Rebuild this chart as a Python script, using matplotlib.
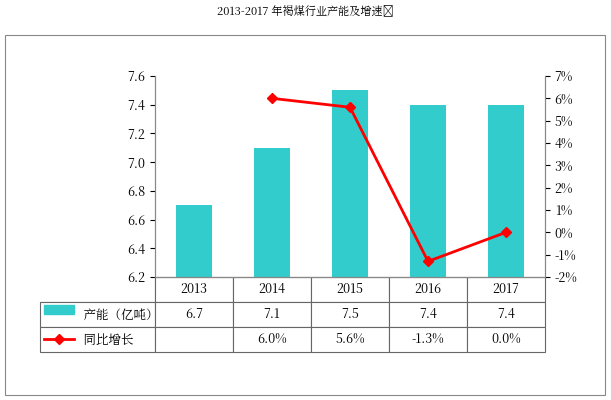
import matplotlib
matplotlib.use("Agg")
import matplotlib.pyplot as plt
from matplotlib import font_manager as fm
from matplotlib.patches import Rectangle
from matplotlib.lines import Line2D

cjk = [f for f in fm.findSystemFonts() if "CJK" in f or "cjk" in f.lower()]
for f in cjk:
    try:
        fm.fontManager.addfont(f)
    except Exception:
        pass
names = [fm.FontProperties(fname=f).get_name() for f in cjk]
pick = [n for n in names if "SC" in n] or names
plt.rcParams["font.family"] = "sans-serif"
plt.rcParams["font.sans-serif"] = pick[:1] + ["Noto Sans CJK SC", "DejaVu Sans"]

categories = ["2013", "2014", "2015", "2016", "2017"]
capacity = [6.7, 7.1, 7.5, 7.4, 7.4]
growth_years = ["2014", "2015", "2016", "2017"]
growth = [6.0, 5.6, -1.3, 0.0]
capacity_labels = ["6.7", "7.1", "7.5", "7.4", "7.4"]
growth_labels = ["", "6.0%", "5.6%", "-1.3%", "0.0%"]

W, H = 611, 400
fig = plt.figure(figsize=(W / 100, H / 100), dpi=100)
fig.add_artist(Rectangle((5 / W, 1 - 395 / H), 600 / W, 360 / H, fill=False,
                         edgecolor="#888888", lw=0.8, transform=fig.transFigure))
fig.text(0.5, 1 - 12 / H, "2013-2017 年褐煤行业产能及增速↵", ha="center", va="center", fontsize=8)

ax = fig.add_axes([155 / W, 1 - 277 / H, 390 / W, 201 / H])
x = list(range(len(categories)))
teal = "#33CCCC"
ax.bar(x, capacity, width=0.45, color=teal, bottom=0)
ax.set_ylim(6.2, 7.6)
ax.set_xlim(-0.5, 4.5)
ax.set_yticks([6.2 + 0.2 * i for i in range(8)])
ax.set_yticklabels([f"{6.2 + 0.2 * i:.1f}" for i in range(8)], fontsize=9)
ax.set_xticks(x)
ax.set_xticklabels([])
ax.tick_params(axis="x", length=0)
ax.spines["top"].set_visible(False)
for s in ["left", "right", "bottom"]:
    ax.spines[s].set_color("#888888")

ax2 = ax.twinx()
gx = [categories.index(g) for g in growth_years]
ax2.plot(gx, growth, color="red", lw=2, marker="D", markersize=5)
ax2.set_ylim(-2, 7)
ax2.set_yticks(range(-2, 8))
ax2.set_yticklabels([f"{v}%" for v in range(-2, 8)], fontsize=9)
ax2.spines["top"].set_visible(False)
for s in ["left", "right", "bottom"]:
    ax2.spines[s].set_color("#888888")

cell_text = [[""] + categories,
             ["          产能（亿吨）"] + capacity_labels,
             ["          同比增长"] + growth_labels]
left = -115 / 390
tbl = ax.table(cellText=cell_text, bbox=[left, -75 / 201, 1 - left, 75 / 201],
               cellLoc="center", colWidths=[115] + [78] * 5)
tbl.auto_set_font_size(False)
tbl.set_fontsize(9)
for (r, c), cell in tbl.get_celld().items():
    cell.set_edgecolor("#666666")
    cell.set_linewidth(0.8)
    if c == 0:
        cell.get_text().set_ha("left")
        cell._loc = "left"
    if r == 0 and c == 0:
        cell.visible_edges = "BR"

fig.add_artist(Rectangle((44 / W, 1 - 314 / H), 30 / W, 9 / H, color=teal,
                         transform=fig.transFigure))
fig.add_artist(Line2D([44 / W, 59 / W, 74 / W], [1 - 339 / H] * 3, color="red", lw=2,
                      marker="D", markersize=5, markevery=[1], transform=fig.transFigure))

fig.savefig("out.png", dpi=100)
